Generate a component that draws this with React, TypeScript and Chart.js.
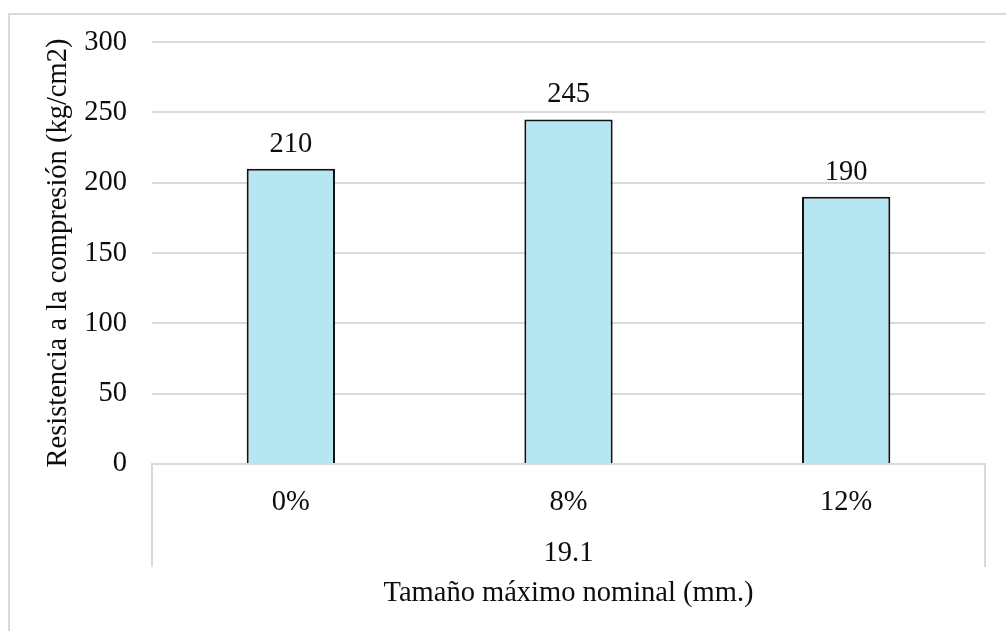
import React, { useEffect, useRef } from 'react';
import { Chart, registerables } from 'chart.js';

Chart.register(...registerables);

const categories = ['0%', '8%', '12%'];
const values = [210, 245, 190];
const groupLabel = '19.1';
const yMin = 0;
const yMax = 300;
const yStep = 50;
const yTitle = 'Resistencia a la compresión (kg/cm2)';
const xTitle = 'Tamaño máximo nominal (mm.)';

const FONT = "'Liberation Serif', 'Times New Roman', serif";
const TEXT = '#0d0d0d';
const GRID = '#d9d9d9';
const BAR_FILL = '#b6e6f1';
const BAR_EDGE = '#111111';
const FS = 28.5;

const overlayPlugin = {
  id: 'overlay',
  afterDatasetsDraw(chart: any) {
    const ctx = chart.ctx;
    const meta = chart.getDatasetMeta(0);
    const area = chart.chartArea;
    ctx.save();
    ctx.font = `${FS}px ${FONT}`;
    ctx.fillStyle = TEXT;
    ctx.textAlign = 'center';
    ctx.textBaseline = 'alphabetic';
    meta.data.forEach((bar: any, i: number) => {
      ctx.fillText(String(values[i]), bar.x, bar.y - 17);
    });
    ctx.strokeStyle = GRID;
    ctx.lineWidth = 2;
    ctx.beginPath();
    ctx.moveTo(area.left, area.bottom);
    ctx.lineTo(area.left, area.bottom + 103);
    ctx.moveTo(area.right, area.bottom);
    ctx.lineTo(area.right, area.bottom + 103);
    ctx.stroke();
    ctx.textBaseline = 'middle';
    ctx.fillText(groupLabel, (area.left + area.right) / 2, area.bottom + 90);
    ctx.restore();
  },
};

export default function App() {
  const ref = useRef<HTMLCanvasElement>(null);

  useEffect(() => {
    if (!ref.current) return;
    const chart = new Chart(ref.current, {
      type: 'bar',
      data: {
        labels: categories,
        datasets: [
          {
            data: values,
            backgroundColor: BAR_FILL,
            borderColor: BAR_EDGE,
            borderWidth: 2,
            borderSkipped: 'bottom',
            categoryPercentage: 1,
            barPercentage: 0.318,
          },
        ],
      },
      options: {
        animation: false,
        responsive: false,
        maintainAspectRatio: false,
        layout: { padding: { left: 0, right: 21, top: 42, bottom: 0 } },
        plugins: {
          legend: { display: false },
          tooltip: { enabled: false },
        },
        scales: {
          x: {
            grid: { display: false, drawTicks: false },
            border: { display: true, color: GRID, width: 2 },
            ticks: {
              color: TEXT,
              font: { family: FONT, size: FS },
              padding: 21,
              maxRotation: 0,
            },
            title: {
              display: true,
              text: xTitle,
              color: TEXT,
              font: { family: FONT, size: FS },
              padding: { top: 0, bottom: 20 },
            },
            afterFit(scale: any) {
              scale.height = 167;
            },
          },
          y: {
            min: yMin,
            max: yMax,
            ticks: {
              stepSize: yStep,
              color: TEXT,
              font: { family: FONT, size: FS },
              padding: 25,
            },
            grid: { color: GRID, lineWidth: 2, drawTicks: false },
            border: { display: false },
            title: {
              display: true,
              text: yTitle,
              color: TEXT,
              font: { family: FONT, size: FS },
              padding: { top: 41, bottom: 0 },
            },
            afterFit(scale: any) {
              scale.width = 152;
            },
          },
        },
      },
      plugins: [overlayPlugin],
    });
    return () => chart.destroy();
  }, []);

  return (
    <div
      style={{
        position: 'fixed',
        left: 0,
        top: 0,
        width: 1006,
        height: 631,
        overflow: 'hidden',
        background: '#ffffff',
      }}
    >
      <div
        style={{
          position: 'absolute',
          left: 8,
          top: 13,
          width: 1020,
          height: 650,
          border: `2px solid ${GRID}`,
          boxSizing: 'border-box',
        }}
      />
      <canvas
        ref={ref}
        width={1006}
        height={631}
        style={{ position: 'absolute', left: 0, top: 0, width: 1006, height: 631, display: 'block' }}
      />
    </div>
  );
}
